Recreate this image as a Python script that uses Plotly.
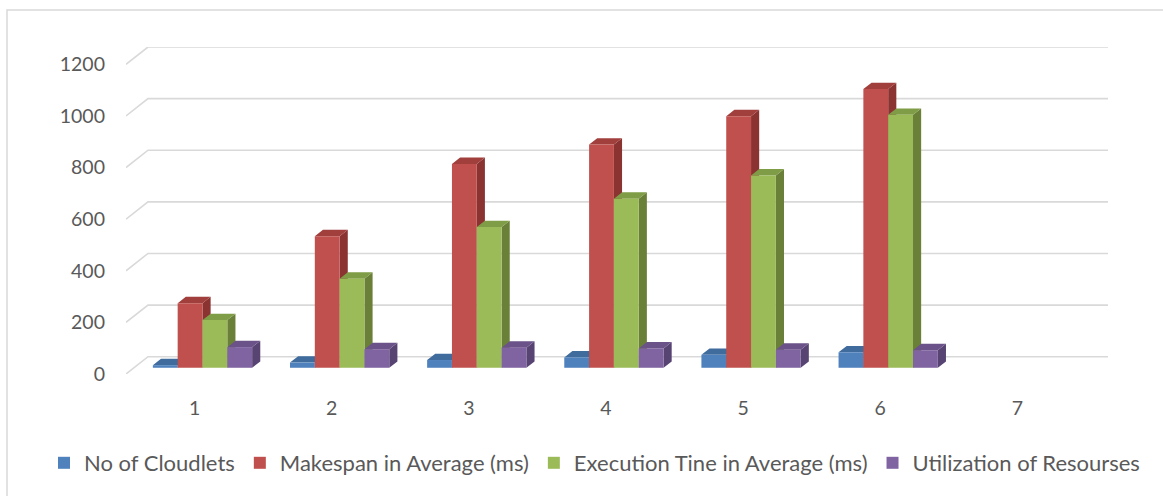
import plotly.graph_objects as go

# ---- data -------------------------------------------------------------
categories = [1, 2, 3, 4, 5, 6, 7]
series_names = [
    "No of Cloudlets",
    "Makespan in Average (ms)",
    "Execution Tine in Average (ms)",
    "Utilization of Resourses",
]
cloudlets = [10, 20, 30, 40, 50, 60, None]
makespan = [250, 510, 790, 865, 975, 1080, None]
execution = [185, 345, 545, 655, 745, 980, None]
utilization = [80, 72, 78, 75, 70, 68, None]
y_ticks = [0, 200, 400, 600, 800, 1000, 1200]

series_values = [cloudlets, makespan, execution, utilization]

# ---- styling ----------------------------------------------------------
front_colors = ["#4F81BD", "#C0504D", "#9BBB59", "#8064A2"]
top_colors = ["#3F6B9D", "#A13F3C", "#7F9C46", "#6B5389"]
side_colors = ["#375A84", "#8A3331", "#6A8039", "#584473"]
grid_color = "#D9D9D9"
text_color = "#595959"
font_family = "Lato, 'Open Sans', sans-serif"

W, H = 1163, 496
ML, MT, MB = 126, 47, 122          # margins (px); plot runs to the right edge
PLOT_W = W - ML
PLOT_H = H - MT - MB
SLOT_PX = 137.14                   # width of one category slot (px)

# pseudo-3D geometry (in axis units)
DEPTH_X = 22 / SLOT_PX  # floor depth, horizontal shift of the back wall
DEPTH_Y = 67.0          # floor depth, vertical shift of the back wall
BAR_W = 0.181           # width of a single column
BAR_Z0 = 0.36           # depth fraction of the column front faces
BAR_DZ = 0.37           # depth fraction occupied by a column

x_range = [0.5, 0.5 + PLOT_W / SLOT_PX]
y_range = [0, 1200 + DEPTH_Y]

fig = go.Figure()

# back wall gridlines and the slanted ticks joining them to the front plane
grid_x, grid_y = [], []
for v in y_ticks:
    grid_x += [0.5, 0.5 + DEPTH_X, 7.5 + DEPTH_X, None]
    grid_y += [v, v + DEPTH_Y, v + DEPTH_Y, None]
fig.add_trace(go.Scatter(
    x=grid_x, y=grid_y, mode="lines",
    line=dict(color=grid_color, width=1.6),
    hoverinfo="skip", showlegend=False,
))

dx = BAR_DZ * DEPTH_X
dy = BAR_DZ * DEPTH_Y
base = BAR_Z0 * DEPTH_Y

# side and top faces, drawn left to right so nearer faces overlap farther ones
for k, vals in enumerate(series_values):
    side_x, side_y, top_x, top_y = [], [], [], []
    for cat, v in zip(categories, vals):
        if v is None:
            continue
        xc = cat + (k - 1.5) * BAR_W + BAR_Z0 * DEPTH_X
        xl, xr = xc - BAR_W / 2, xc + BAR_W / 2
        top = base + v
        side_x += [xr, xr, xr + dx, xr + dx, xr, None]
        side_y += [base, top, top + dy, base + dy, base, None]
        top_x += [xl, xr, xr + dx, xl + dx, xl, None]
        top_y += [top, top, top + dy, top + dy, top, None]
    fig.add_trace(go.Scatter(
        x=side_x, y=side_y, mode="lines", fill="toself",
        fillcolor=side_colors[k], line=dict(width=0, color=side_colors[k]),
        hoverinfo="skip", showlegend=False,
    ))
    fig.add_trace(go.Scatter(
        x=top_x, y=top_y, mode="lines", fill="toself",
        fillcolor=top_colors[k], line=dict(width=0, color=top_colors[k]),
        hoverinfo="skip", showlegend=False,
    ))

# column front faces on an overlaid subplot so they sit above every face
for k, (name, vals) in enumerate(zip(series_names, series_values)):
    xs, ys = [], []
    for cat, v in zip(categories, vals):
        if v is None:
            continue
        xs.append(cat + (k - 1.5) * BAR_W + BAR_Z0 * DEPTH_X)
        ys.append(v)
    fig.add_trace(go.Bar(
        x=xs, y=ys, base=[base] * len(xs), width=BAR_W,
        name=name, marker=dict(color=front_colors[k], line=dict(width=0)),
        xaxis="x2", yaxis="y2",
    ))

fig.update_layout(
    width=W, height=H,
    margin=dict(l=ML, r=0, t=MT, b=MB, autoexpand=False),
    paper_bgcolor="white", plot_bgcolor="rgba(0,0,0,0)",
    barmode="overlay",
    font=dict(family=font_family, size=19.5, color=text_color),
    xaxis=dict(
        range=x_range, tickmode="array", tickvals=categories,
        ticktext=[str(c) for c in categories],
        showgrid=False, zeroline=False, showline=False, ticks="",
        ticklabelstandoff=20, fixedrange=True, automargin=False,
    ),
    yaxis=dict(
        range=y_range, tickmode="array", tickvals=y_ticks,
        ticktext=[str(t) for t in y_ticks],
        showgrid=False, zeroline=False, showline=False, ticks="",
        ticklabelstandoff=20, fixedrange=True, automargin=False,
    ),
    xaxis2=dict(range=x_range, overlaying="x", anchor="y2", visible=False),
    yaxis2=dict(range=y_range, overlaying="y", anchor="x2", visible=False),
    legend=dict(
        orientation="h", xref="paper", yref="paper",
        x=(44 - ML) / PLOT_W, xanchor="left",
        y=(H - MB - 463) / PLOT_H, yanchor="middle",
        font=dict(size=22, color=text_color), itemwidth=30,
        bgcolor="rgba(0,0,0,0)",
    ),
    shapes=[dict(
        type="rect", xref="paper", yref="paper",
        x0=(7 - ML) / PLOT_W, x1=1.05,
        y0=-0.5, y1=(H - MB - 10) / PLOT_H,
        line=dict(color=grid_color, width=1.5), layer="below",
    )],
)

fig.write_html("out.html")
